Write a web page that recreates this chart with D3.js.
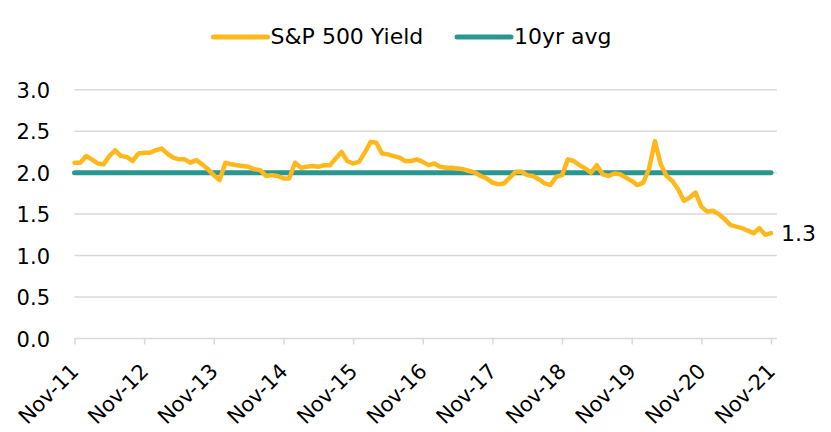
<!DOCTYPE html>
<html>
<head>
<meta charset="utf-8">
<script src="https://cdn.jsdelivr.net/npm/d3@7"></script>
<style>
  html, body { margin: 0; padding: 0; background: #ffffff; }
  svg { display: block; }
  text { font-family: "DejaVu Sans", sans-serif; fill: #000; }
</style>
</head>
<body>
<div id="chart"></div>
<script>
// ---- data ----
const seriesNames = ["S&P 500 Yield", "10yr avg"];
const tickLabels = ["Nov-11","Nov-12","Nov-13","Nov-14","Nov-15","Nov-16","Nov-17","Nov-18","Nov-19","Nov-20","Nov-21"];
const yTicks = [0, 0.5, 1.0, 1.5, 2.0, 2.5, 3.0];
// monthly dividend yield, Nov-11 .. Nov-21
const spYield = [
  2.12, 2.12, 2.20, 2.16, 2.11, 2.10, 2.20, 2.27, 2.20, 2.19, 2.14, 2.23,
  2.24, 2.24, 2.27, 2.29, 2.23, 2.18, 2.16, 2.16, 2.12, 2.15, 2.10, 2.04,
  1.97, 1.91, 2.12, 2.10, 2.09, 2.08, 2.07, 2.04, 2.03, 1.96, 1.97, 1.96,
  1.93, 1.93, 2.12, 2.06, 2.07, 2.08, 2.07, 2.09, 2.09, 2.17, 2.25, 2.14,
  2.11, 2.13, 2.24, 2.37, 2.36, 2.23, 2.22, 2.20, 2.18, 2.14, 2.14, 2.16,
  2.13, 2.09, 2.11, 2.07, 2.06, 2.06, 2.05, 2.04, 2.02, 2.00, 1.96, 1.93,
  1.88, 1.86, 1.87, 1.94, 2.01, 2.01, 1.97, 1.96, 1.92, 1.87, 1.85, 1.95,
  1.97, 2.16, 2.14, 2.09, 2.05, 2.00, 2.09, 1.98, 1.96, 1.99, 1.98, 1.94,
  1.90, 1.85, 1.88, 2.05, 2.38, 2.10, 1.96, 1.90, 1.80, 1.66, 1.70, 1.76,
  1.59, 1.53, 1.54, 1.50, 1.44, 1.37, 1.35, 1.33, 1.30, 1.27, 1.33, 1.25,
  1.27
];
const avg10yr = 2.0;
const lastLabel = "1.3";

// ---- layout ----
const W = 831, H = 432;
const colors = { yield: "#FFB81C", avg: "#2A9690", grid: "#D9D9D9" };

const svg = d3.select("#chart").append("svg")
  .attr("width", W).attr("height", H);

const nMonths = spYield.length; // 121
const x = d3.scaleLinear().domain([0, nMonths - 1]).range([74.5, 771]);
const y = d3.scaleLinear().domain([0, 3]).range([338.5, 89.7]);

// gridlines
svg.append("g").selectAll("line")
  .data(yTicks.filter(d => d > 0))
  .join("line")
  .attr("x1", x(0)).attr("x2", x(nMonths))
  .attr("y1", d => y(d)).attr("y2", d => y(d))
  .attr("stroke", colors.grid).attr("stroke-width", 1.5);

// y axis labels
const yAxis = d3.axisLeft(y).tickValues(yTicks).tickFormat(d3.format(".1f"))
  .tickSize(0).tickPadding(0);
const yg = svg.append("g").attr("transform", "translate(50,0)").call(yAxis);
yg.select(".domain").remove();
yg.selectAll("text").attr("font-size", 21).attr("font-family", "DejaVu Sans")
  .attr("fill", "#000").attr("dy", "0.36em");

// x axis
const tickIdx = tickLabels.map((_, i) => i * 12);
const xAxis = d3.axisBottom(x).tickValues(tickIdx)
  .tickFormat((d, i) => tickLabels[i]).tickSize(6).tickSizeOuter(0);
const xg = svg.append("g").attr("transform", `translate(0,${y(0)})`).call(xAxis);
xg.select(".domain").attr("d", `M${x(0)},0H${x(nMonths)}`)
  .attr("stroke", colors.grid).attr("stroke-width", 1.5);
xg.selectAll(".tick line").attr("stroke", colors.grid).attr("stroke-width", 1.5);
xg.selectAll(".tick text")
  .attr("font-size", 21).attr("font-family", "DejaVu Sans").attr("fill", "#000")
  .attr("text-anchor", "end")
  .attr("dy", 0).attr("y", 0)
  .attr("transform", "translate(5,34) rotate(-45)");

// 10yr avg line
const line = d3.line().x((d, i) => x(i)).y(d => y(d));
svg.append("path")
  .datum(spYield.map(() => avg10yr))
  .attr("d", line)
  .attr("fill", "none").attr("stroke", colors.avg)
  .attr("stroke-width", 5).attr("stroke-linecap", "round");

// yield line
svg.append("path")
  .datum(spYield)
  .attr("d", line)
  .attr("fill", "none").attr("stroke", colors.yield)
  .attr("stroke-width", 4.5).attr("stroke-linejoin", "round").attr("stroke-linecap", "round");

// end label
svg.append("text")
  .attr("x", x(nMonths - 1) + 10)
  .attr("y", y(spYield[nMonths - 1]))
  .attr("dy", "0.36em")
  .attr("font-size", 22)
  .text(lastLabel);

// legend
const legend = [
  { name: seriesNames[0], color: colors.yield, x0: 213.5 },
  { name: seriesNames[1], color: colors.avg, x0: 457 }
];
const lg = svg.append("g");
legend.forEach(l => {
  lg.append("line")
    .attr("x1", l.x0).attr("x2", l.x0 + 54)
    .attr("y1", 37).attr("y2", 37)
    .attr("stroke", l.color).attr("stroke-width", 5).attr("stroke-linecap", "round");
  lg.append("text")
    .attr("x", l.x0 + 57).attr("y", 44)
    .attr("font-size", 22)
    .text(l.name);
});
</script>
</body>
</html>
